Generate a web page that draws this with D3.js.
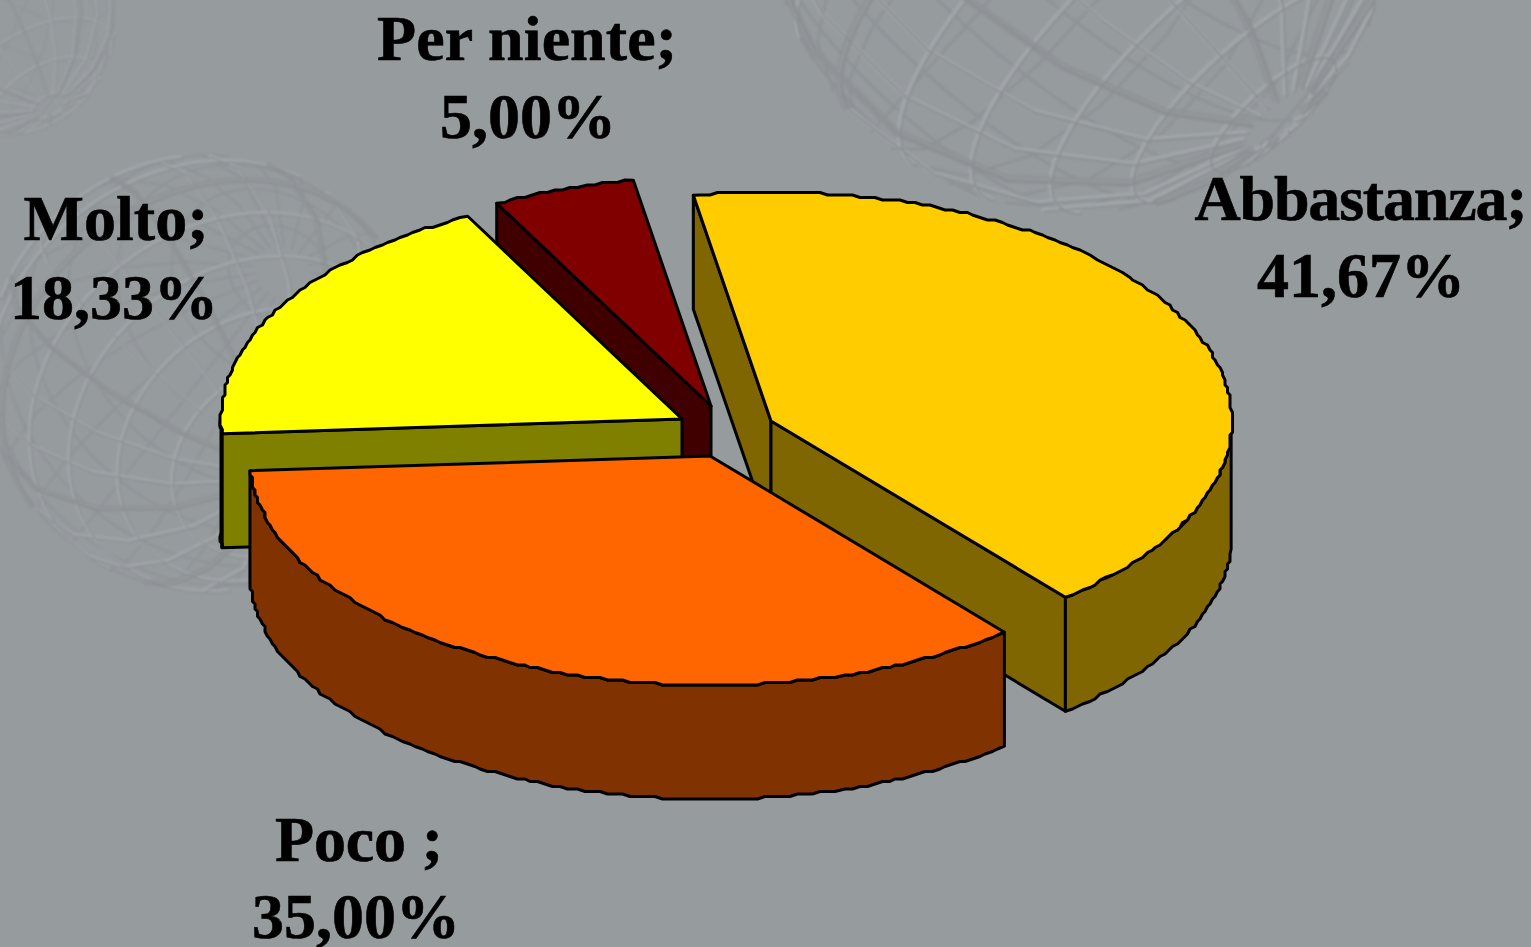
<!DOCTYPE html>
<html><head><meta charset="utf-8">
<script src="https://cdn.jsdelivr.net/npm/d3@7"></script>
<style>html,body{margin:0;padding:0;background:#969b9e;overflow:hidden}svg{display:block}
text{font-family:"Liberation Serif","Times New Roman",serif;font-weight:700;fill:#000;stroke:#000;stroke-width:.6;text-anchor:middle}</style>
</head><body><svg id="c" width="1531" height="947"></svg>
<script>
const categories = ["Abbastanza;", "Poco ;", "Molto;", "Per niente;"];
const values = [41.67, 35.00, 18.33, 5.00];
const topColors = ["#ffcc00", "#ff6600", "#ffff00", "#800000"];
const sideColors = ["#806600", "#803300", "#808000", "#400000"];

// layout
const W = 1531, H = 947;
const apex = [[771,421],[710,456],[682,419],[711,406]];
const labelPos = [[[1361,220],[1361,297]],[[359,861],[356,938]],[[116,240],[114,319]],[[527,60],[528,138]]];
const nameWidth = [333, 168, 185, 300];
const RX = 461, RY = 229, DEPTH = 114, GRID = 2.5, FONT = 64;
const START = -9.7 * Math.PI / 180;
const WALL_LEAD = 3.5 * Math.PI / 180;
const paintOrder = [0, 3, 2, 1];

const svg = d3.select("#c");
const defs = svg.append("defs");
defs.append("filter").attr("id","soft").append("feGaussianBlur").attr("stdDeviation",1);

svg.append("rect").attr("width",W).attr("height",H).attr("fill","#969b9e");

// faint wire-frame globes in the backdrop
function globe(cx, cy, r, rotate, step, opacity){
  const g = svg.append("g").attr("filter","url(#soft)").attr("opacity",opacity).attr("fill","none").attr("stroke-linecap","butt");
  const proj = d3.geoOrthographic().translate([cx,cy]).scale(r).rotate(rotate).clipAngle(90).precision(6);
  const back = d3.geoOrthographic().translate([cx,cy]).scale(r).rotate([rotate[0]+180,-rotate[1],-rotate[2]]).clipAngle(90).precision(6);
  const grat = d3.geoGraticule().step([step,step]).extent([[-180,-82],[180.01,82.01]])();
  const bold = d3.geoGraticule().stepMajor([90,360]).stepMinor([45,360]).extent([[-180,-82],[180.01,82.01]])();
  g.append("path").attr("d",d3.geoPath(back)(grat)).attr("stroke","#8b9093").attr("stroke-width",r*0.009);
  g.append("path").attr("d",d3.geoPath(proj)(grat)).attr("stroke","#a5aaad").attr("stroke-width",r*0.014);
  g.append("path").attr("d",d3.geoPath(proj)(grat)).attr("stroke","#878b8e").attr("stroke-width",r*0.006).attr("transform","translate(2,2)");
  g.append("path").attr("d",d3.geoPath(proj)(bold)).attr("stroke","#85898c").attr("stroke-width",r*0.026).attr("opacity",.6);
}
globe(1080,-100,312,[15,18,42],15,.7);
globe(205,373,218,[15,54,38],15,.65);
globe(0,20,115,[10,30,30],20,.55);

const pie = d3.pie().sort(null).startAngle(START).endAngle(START + 2*Math.PI);
const arcs = pie(values);
const xS = d3.scaleLinear().domain([-1,1]).range([-RX,RX]);
const yS = d3.scaleLinear().domain([-1,1]).range([-RY,RY]);
const line = d3.line();

function rim(i, a0, a1){
  const [cx,cy] = apex[i];
  const n = Math.max(2, Math.ceil((a1-a0)/(1*Math.PI/180)));
  return d3.range(n+1).map(k=>{
    const t = a0 + (a1-a0)*k/n;
    let x = cx + xS(Math.sin(t)), y = cy - yS(Math.cos(t));
    if(k>0 && k<n){ x = Math.round(x/GRID)*GRID; y = Math.round(y/GRID)*GRID; }
    return [x,y];
  });
}
const down = p => [p[0], p[1]+DEPTH];
const drawn = svg.append("g").attr("stroke","#000").attr("stroke-width",3).attr("stroke-linejoin","round");

function slice(i){
  const a = arcs[i], c = apex[i], s = a.startAngle, e = a.endAngle;
  const pts = rim(i,s,e);
  const g = drawn.append("g");
  const face = (q)=>g.append("path").attr("d",line(q)+"Z").attr("fill",sideColors[i]);
  if(Math.sin(s) < 0) face([pts[0],c,down(c),down(pts[0])]);
  if(Math.sin(e) > 0) face([pts[pts.length-1],c,down(c),down(pts[pts.length-1])]);
  const lo = Math.max(s, Math.PI/2 + WALL_LEAD), hi = Math.min(e, 1.5*Math.PI);
  if(hi > lo){
    const w = rim(i,lo,hi);
    face(w.concat(w.map(down).reverse()));
  }
  g.append("path").attr("d",line([c].concat(pts))+"Z").attr("fill",topColors[i]);
}
paintOrder.forEach(slice);

const fmt = d3.formatLocale({decimal:",",thousands:".",grouping:[3],currency:["","€"]}).format(".2f");
categories.forEach((name,i)=>{
  svg.append("text").attr("x",labelPos[i][0][0]).attr("y",labelPos[i][0][1]).attr("font-size",FONT)
    .attr("textLength",nameWidth[i]).attr("lengthAdjust","spacing").text(name);
  svg.append("text").attr("x",labelPos[i][1][0]).attr("y",labelPos[i][1][1]).attr("font-size",FONT).text(fmt(values[i])+"%");
});
</script></body></html>
